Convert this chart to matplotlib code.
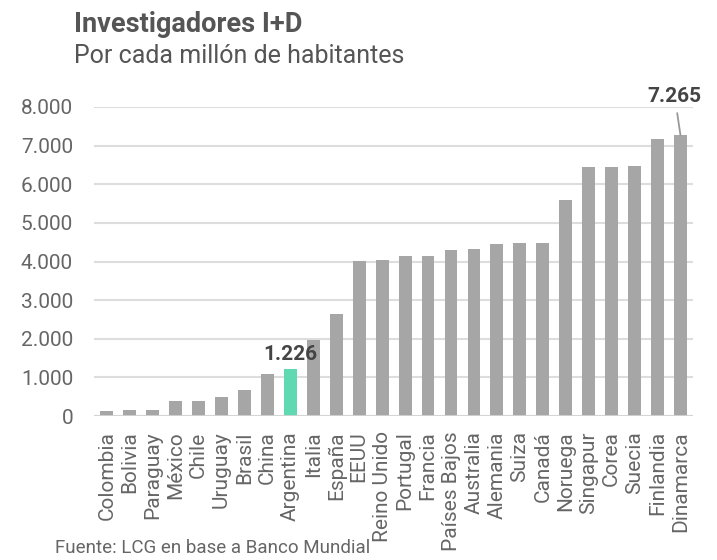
import matplotlib
matplotlib.use("Agg")
import matplotlib.pyplot as plt
from matplotlib.ticker import FuncFormatter

countries = ["Colombia", "Bolivia", "Paraguay", "México", "Chile", "Uruguay", "Brasil",
             "China", "Argentina", "Italia", "España", "EEUU", "Reino Unido", "Portugal",
             "Francia", "Países Bajos", "Australia", "Alemania", "Suiza", "Canadá",
             "Noruega", "Singapur", "Corea", "Suecia", "Finlandia", "Dinamarca"]
values = [130, 165, 165, 380, 380, 500, 680, 1080, 1226, 1970, 2640, 4017, 4050, 4145,
          4145, 4290, 4330, 4450, 4475, 4475, 5580, 6435, 6435, 6470, 7170, 7265]
highlight = "Argentina"
yticks = [0, 1000, 2000, 3000, 4000, 5000, 6000, 7000, 8000]

plt.rcParams['font.family'] = ['Roboto', 'DejaVu Sans']

fig = plt.figure(figsize=(7.17, 5.6), dpi=100)
ax = fig.add_axes([0.131, 0.257, 0.836, 0.552])

x = list(range(len(countries)))
colors = ["#5ed9b2" if c == highlight else "#a6a6a6" for c in countries]
ax.bar(x, values, width=0.56, color=colors, zorder=3)

ax.set_ylim(0, 8000)
ax.set_xlim(-0.56, len(countries) - 1 + 0.56)
ax.set_yticks(yticks)
ax.yaxis.set_major_formatter(FuncFormatter(lambda v, p: f"{int(v):,}".replace(",", ".")))
ax.grid(axis='y', color="#dddddd", linewidth=1.5, zorder=0)
for s in ax.spines.values():
    s.set_visible(False)
ax.axhline(0, color="#d4d4d4", linewidth=2, zorder=4)
ax.tick_params(axis='y', length=0, labelsize=15, labelcolor="#666666", pad=15)
ax.set_xticks(x)
ax.set_xticklabels(countries, rotation=90, fontsize=15, color="#666666")
ax.tick_params(axis='x', length=0, pad=11)

ia = countries.index(highlight)
ax.text(ia, values[ia] + 120, f"{values[ia]:,}".replace(",", "."), ha='center', va='bottom',
        fontsize=15, fontweight='bold', color="#444444", zorder=5)

imax = len(values) - 1
ax.annotate(f"{values[imax]:,}".replace(",", "."), xy=(imax, values[imax]),
            xytext=(imax - 0.25, values[imax] + 1000), ha='center', va='center',
            fontsize=15, fontweight='bold', color="#444444",
            arrowprops=dict(arrowstyle='-', color="#999999", lw=1.3, shrinkA=3, shrinkB=0),
            annotation_clip=False)

fig.text(0.103, 0.957, "Investigadores I+D", fontsize=19.5, fontweight='bold', color="#555555",
         ha='left', va='center')
fig.text(0.103, 0.900, "Por cada millón de habitantes", fontsize=18, color="#555555",
         ha='left', va='center')
fig.text(0.077, 0.021, "Fuente: LCG en base a Banco Mundial", fontsize=13.5, color="#666666",
         ha='left', va='center')

fig.savefig("out.png", dpi=100, facecolor="white")
